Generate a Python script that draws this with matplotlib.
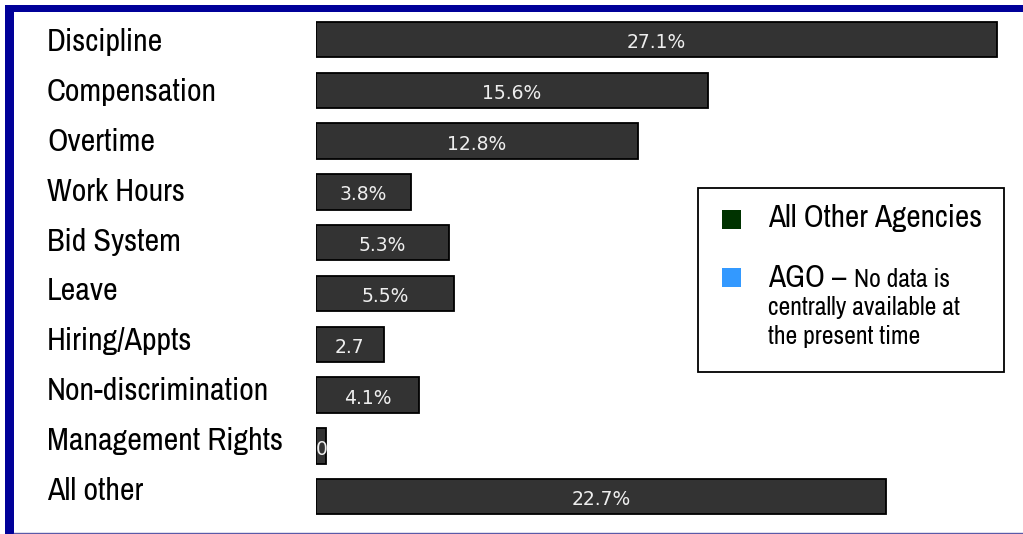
import matplotlib
matplotlib.use('Agg')
from matplotlib import pyplot as plt
from matplotlib import font_manager
from matplotlib.patches import Rectangle
from matplotlib.lines import Line2D

categories = ['Discipline', 'Compensation', 'Overtime', 'Work Hours', 'Bid System',
              'Leave', 'Hiring/Appts', 'Non-discrimination', 'Management Rights', 'All other']
values = [27.1, 15.6, 12.8, 3.8, 5.3, 5.5, 2.7, 4.1, 0.4, 22.7]
value_labels = ['27.1%', '15.6%', '12.8%', '3.8%', '5.3%', '5.5%', '2.7', '4.1%', '0', '22.7%']

W, H = 1023, 534

# the original uses Arial Narrow; take a condensed face if one is installed
installed = {f.name for f in font_manager.fontManager.ttflist}
narrow_faces = [n for n in installed if 'Narrow' in n or 'Condensed' in n]
if 'Liberation Sans Narrow' in installed:
    family, k = ['Liberation Sans Narrow', 'DejaVu Sans'], 1.05
elif narrow_faces:
    family, k = [sorted(narrow_faces)[0], 'DejaVu Sans'], 1.0
else:
    family, k = ['Liberation Sans', 'DejaVu Sans'], 0.86


def px(x, y):
    # pixel position (from top-left) -> figure fraction
    return x / W, 1 - y / H


fig = plt.figure(figsize=(W / 100, H / 100), dpi=100)

# blue frame
fig.add_artist(Rectangle(px(5, 534), 9 / W, 529 / H, transform=fig.transFigure,
                         color='#000099', lw=0))
fig.add_artist(Rectangle(px(5, 12), 1018 / W, 7 / H, transform=fig.transFigure,
                         color='#000099', lw=0))
fig.add_artist(Line2D([14 / W, 1], [1.5 / H, 1.5 / H], transform=fig.transFigure,
                      color='#5a5aa8', lw=1))

# axes: bars start at x=316, 25.13 px per percent, rows 50.8 px apart
x0, ppu = 316, 25.13
xmax = 28
row = 50.8
top = 39.5 - row / 2
left, bottom = px(x0, top + row * 10)
ax = fig.add_axes([left, bottom, xmax * ppu / W, row * 10 / H])
ax.set_xlim(0, xmax)
ax.set_ylim(len(categories) - 0.5, -0.5)
ax.axis('off')

ypos = list(range(len(categories)))
ax.barh(ypos, values, height=0.7, color='#333333', edgecolor='black', linewidth=1.3)

for y, v, lab in zip(ypos, values, value_labels):
    if v < 1:
        ax.text(0.0, y + 0.08, lab, color='#eeeeee', fontsize=13.5, ha='left', va='center')
    else:
        ax.text(v / 2, y + 0.06, lab, color='#eeeeee', fontsize=13.5, ha='center', va='center')

# category names sit left of the plot, baselines ~49.9 px apart
for i, cat in enumerate(categories):
    fig.text(*px(47, 51 + 49.9 * i), cat, family=family, fontsize=23 * k,
             ha='left', va='baseline', color='black')

# legend box
fig.add_artist(Rectangle(px(698, 372), 306 / W, 184 / H, transform=fig.transFigure,
                         facecolor='white', edgecolor='black', lw=1.3))
fig.add_artist(Rectangle(px(722, 229), 19 / W, 19 / H, transform=fig.transFigure,
                         color='#003300', lw=0))
fig.add_artist(Rectangle(px(722, 287), 19 / W, 19 / H, transform=fig.transFigure,
                         color='#3399ff', lw=0))
fig.text(*px(768, 227), 'All Other Agencies', family=family, fontsize=22.5 * k,
         ha='left', va='baseline')
t = fig.text(*px(768, 287), 'AGO – ', family=family, fontsize=22.5 * k,
             ha='left', va='baseline')
fig.canvas.draw()
bb = t.get_window_extent()
fig.text(bb.x1 / W, 1 - 287 / H, 'No data is', family=family, fontsize=18.5 * k,
         ha='left', va='baseline')
fig.text(*px(768, 315), 'centrally available at', family=family, fontsize=18.5 * k,
         ha='left', va='baseline')
fig.text(*px(768, 344), 'the present time', family=family, fontsize=18.5 * k,
         ha='left', va='baseline')

fig.savefig('out.png', dpi=100)
